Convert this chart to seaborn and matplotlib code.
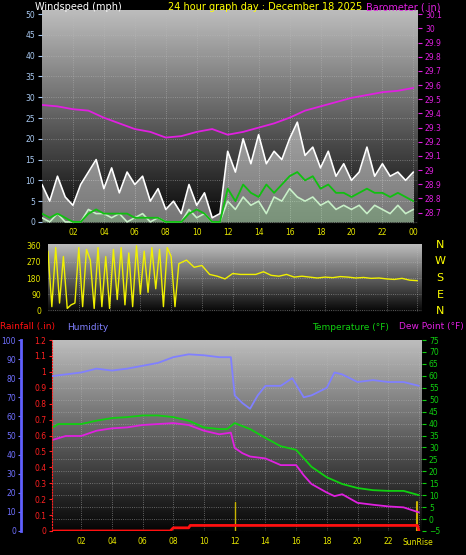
import numpy as np
import matplotlib
matplotlib.use('Agg')
import matplotlib.pyplot as plt
from matplotlib.colors import LinearSegmentedColormap
from matplotlib.ticker import FormatStrFormatter
import seaborn as sns

sns.set_style('dark')
plt.rcParams['font.family'] = ['DejaVu Sans']

# -------------------- data --------------------
wind_t = np.arange(0, 24.01, 0.5)
gust = [9, 5, 11, 6, 4, 9, 12, 15, 8, 13, 7, 12, 9, 11, 5, 8, 3, 5, 2, 9, 4, 7, 1, 2,
        17, 12, 20, 14, 21, 14, 17, 15, 20, 24, 16, 18, 13, 17, 11, 14, 10, 12, 18, 11,
        14, 11, 12, 10, 12]
speed = [1, 0, 2, 0, 0, 0, 3, 2, 2, 1, 2, 0, 1, 2, 0, 1, 0, 0, 0, 3, 1, 2, 0, 0,
         5, 3, 6, 4, 5, 2, 6, 5, 8, 6, 5, 6, 4, 5, 3, 4, 3, 4, 2, 4, 3, 2, 4, 2, 3]
avg_speed = [2, 1, 2, 1, 0, 0, 2, 3, 2, 2, 2, 2, 1, 1, 1, 1, 0, 0, 0, 2, 3, 2, 0, 0,
             8, 5, 9, 7, 6, 9, 7, 9, 11, 12, 10, 11, 8, 9, 7, 7, 6, 7, 8, 7, 7, 6, 7, 6, 5]

baro_t = np.arange(0, 25)
baro = [29.46, 29.45, 29.43, 29.42, 29.37, 29.33, 29.29, 29.27, 29.23, 29.24, 29.27,
        29.29, 29.25, 29.27, 29.30, 29.33, 29.37, 29.42, 29.45, 29.48, 29.51, 29.53,
        29.55, 29.56, 29.58]

dir_early = [330, 20, 350, 40, 300, 10, 30, 40, 350, 20, 340, 280, 10, 350, 20, 300, 10,
             340, 60, 350, 30, 320, 20, 360, 90, 330, 100, 350, 120, 340, 20, 350, 300, 20]
dir_late = [260, 280, 240, 250, 200, 190, 175, 205, 200, 200, 200, 215, 195, 190, 200, 185,
            190, 185, 180, 185, 182, 188, 185, 180, 183, 178, 180, 175, 172, 178, 168, 165]
dir_t = np.concatenate([np.arange(0, 8.26, 0.25), np.arange(8.5, 24.01, 0.5)])
direction = dir_early + dir_late

hum_t = [0, 1, 2, 3, 4, 5, 6, 7, 8, 9, 10, 11, 11.75, 12, 12.5, 13, 13.5, 14, 15, 15.75,
         16.5, 17, 18, 18.5, 19, 20, 21, 22, 23, 24]
humidity = [81, 82, 83, 85, 84, 85, 86.5, 88, 91, 92.5, 92, 91, 91, 71, 67, 64, 71, 76, 76,
            80, 70, 71, 75, 83, 82, 78, 79, 78, 78, 76]
temp_t = [0, 0.5, 2, 3, 4, 5, 6, 7, 8, 9, 10, 11, 11.5, 12, 13, 14, 15, 16, 17, 18, 19,
          20, 21, 22, 23, 24]
temperature = [37.7, 39.8, 39.8, 41.2, 42.3, 42.7, 43.4, 43.4, 42.7, 41.2, 38.4, 37.7, 37.7,
               40.2, 37.7, 34, 30.5, 29, 21.9, 17.5, 14.7, 13, 12.1, 11.8, 11.8, 10]
dew_t = [0, 1, 2, 3, 4, 5, 6, 7, 8, 9, 10, 11, 11.75, 12, 12.5, 13, 14, 15, 16, 16.5, 17,
         18, 18.5, 19, 20, 21, 22, 23, 24]
dewpoint = [32.9, 34.8, 34.8, 37, 38, 38.4, 39.4, 39.8, 40.2, 39.4, 37, 35.5, 36.2, 29.8,
            27.6, 26.2, 25.4, 22.6, 22.6, 18.3, 14.7, 11.1, 9.6, 10.4, 6.8, 6, 5.3, 4.9, 2.8]
rain_t = [0, 7.8, 8.0, 9.0, 9.1, 23.9, 24.0]
rain = [0, 0, 0.02, 0.02, 0.035, 0.035, 0]

hour_ticks = [2, 4, 6, 8, 10, 12, 14, 16, 18, 20, 22, 24]
hour_labels = ['02', '04', '06', '08', '10', '12', '14', '16', '18', '20', '22', '00']

W, H = 466, 555
fig = plt.figure(figsize=(W / 100, H / 100), dpi=100, facecolor='black')
bg_cmap = LinearSegmentedColormap.from_list('bg', ['#050505', '#cfcfcf'])


def rect(l, t, r, b):
    return [l / W, 1 - b / H, (r - l) / W, (b - t) / H]


def gradient(ax, x0, x1, y0, y1):
    ax.imshow(np.linspace(1, 0, 256)[:, None], aspect='auto', cmap=bg_cmap,
              extent=[x0, x1, y0, y1], zorder=0, vmin=0, vmax=1.1)
    ax.set_xlim(x0, x1)
    ax.set_ylim(y0, y1)


def style(ax):
    ax.set_facecolor('black')
    for s in ax.spines.values():
        s.set_visible(False)
    ax.grid(True, color='#bbbbbb', linestyle=':', linewidth=0.6, alpha=0.6, zorder=1)
    ax.set_xlabel('')
    ax.set_ylabel('')


def clean_twin(ax):
    for s in ax.spines.values():
        s.set_visible(False)
    ax.set_ylabel('')
    ax.grid(False)


# -------------------- wind / barometer --------------------
ax1 = fig.add_axes(rect(42, 10, 418, 224))
gradient(ax1, 0, 24.3, -0.5, 51)
style(ax1)
ax1.fill_between(wind_t, speed, gust, color='white', alpha=0.45, lw=0, zorder=2)
sns.lineplot(x=wind_t, y=gust, ax=ax1, color='white', lw=1.2, zorder=3)
ax1.fill_between(wind_t, 0, speed, color='#c8f0c8', alpha=0.6, lw=0, zorder=3)
sns.lineplot(x=wind_t, y=speed, ax=ax1, color='#c8f0c8', lw=1.2, zorder=4)
sns.lineplot(x=wind_t, y=avg_speed, ax=ax1, color='#10c010', lw=1.3, zorder=5)
ax1.set_xlim(0, 24.3)
ax1.set_ylim(-0.5, 51)
ax1.set_yticks(range(0, 51, 5))
ax1.set_xticks(hour_ticks)
ax1.set_xticklabels(hour_labels)
style(ax1)

axb = ax1.twinx()
sns.lineplot(x=baro_t, y=baro, ax=axb, color='#e020e0', lw=1.3)
axb.set_ylim(28.62, 30.13)
axb.set_yticks(np.round(np.arange(28.7, 30.11, 0.1), 1))
axb.yaxis.set_major_formatter(FormatStrFormatter('%g'))
axb.tick_params(axis='y', colors='#e020e0', labelsize=5.5, length=3, pad=2)
clean_twin(axb)
ax1.tick_params(axis='y', colors='#a8c8f0', labelsize=5.5, length=3, pad=2)
ax1.tick_params(axis='x', colors='#e8e800', labelsize=5.5, length=0, pad=3)

fig.text(35 / W, 1 - 7 / H, 'Windspeed (mph)', color='white', fontsize=7, va='center')
fig.text(265 / W, 1 - 7 / H, '24 hour graph day : December 18 2025', color='#ffff00',
         fontsize=7, va='center', ha='center')
fig.text(440 / W, 1 - 7 / H, 'Barometer (.in)', color='#e020e0', fontsize=7,
         va='center', ha='right')

# -------------------- wind direction --------------------
ax2 = fig.add_axes(rect(48, 244, 422, 312))
gradient(ax2, 0, 24.3, -10, 370)
style(ax2)
sns.lineplot(x=dir_t, y=direction, ax=ax2, color='#f0f000', lw=1.0, zorder=3)
ax2.set_xlim(0, 24.3)
ax2.set_ylim(-10, 370)
ax2.set_yticks([0, 90, 180, 270, 360])
ax2.set_xticks(hour_ticks)
ax2.set_xticklabels([])
ax2.tick_params(axis='y', colors='#e8e800', labelsize=5.5, length=3, pad=2)
ax2.tick_params(axis='x', length=0)
style(ax2)
for lbl, y in zip(['N', 'W', 'S', 'E', 'N'], [245, 261, 278, 295, 311]):
    fig.text(440 / W, 1 - y / H, lbl, color='#ffff00', fontsize=8, ha='center', va='center')

# -------------------- temperature / humidity / rain --------------------
ax3 = fig.add_axes(rect(52, 340, 422, 531))
gradient(ax3, 0.1, 24.2, -5, 75)
style(ax3)
sns.lineplot(x=temp_t, y=temperature, ax=ax3, color='#10d010', lw=1.3, zorder=4)
sns.lineplot(x=dew_t, y=dewpoint, ax=ax3, color='#e020e0', lw=1.3, zorder=4)
ax3.axvline(12, ymax=0.15, color='#c8b400', lw=1, zorder=3)
ax3.axvline(23.9, ymax=0.15, color='#c8b400', lw=1.5, zorder=3)
ax3.set_xlim(0.1, 24.2)
ax3.set_ylim(-5, 75)
ax3.set_yticks(range(-5, 76, 5))
ax3.set_xticks(hour_ticks)
ax3.set_xticklabels(hour_labels[:-1] + [''])
style(ax3)
ax3.text(23.9, -9.8, 'SunRise', color='#e8e800', fontsize=5.5, ha='center', va='center')

axr = ax3.twinx()
sns.lineplot(x=rain_t, y=rain, ax=axr, color='#ff1010', lw=2, zorder=5)
axr.set_ylim(0, 1.2)
axr.set_yticks(np.round(np.arange(0, 1.21, 0.1), 1))
axr.yaxis.set_major_formatter(FormatStrFormatter('%g'))
clean_twin(axr)
axr.yaxis.tick_left()
axr.tick_params(axis='y', colors='#ff2020', labelsize=5.5, length=2, pad=2)
axr.spines['left'].set_visible(True)
axr.spines['left'].set_color('#ff2020')
axr.spines['left'].set_linestyle(':')

axh = ax3.twinx()
sns.lineplot(x=hum_t, y=humidity, ax=axh, color='#8080ff', lw=1.3, zorder=5)
axh.set_ylim(0, 100)
axh.set_yticks(range(0, 101, 10))
clean_twin(axh)
axh.yaxis.tick_left()
axh.tick_params(axis='y', colors='#7070ff', labelsize=5.5, length=2, pad=2)
axh.spines['left'].set_visible(True)
axh.spines['left'].set_position(('outward', 22))
axh.spines['left'].set_color('#6060ff')
axh.spines['left'].set_linewidth(2)

# twinx moves the host ticks to the left, so put them back on the right
ax3.yaxis.tick_right()
ax3.tick_params(axis='y', colors='#10d010', labelsize=5.5, length=3, pad=2)
ax3.tick_params(axis='x', colors='#e8e800', labelsize=5.5, length=0, pad=4)

fig.text(0 / W, 1 - 327 / H, 'Rainfall (.in)', color='#ff1010', fontsize=6.5, va='center')
fig.text(67 / W, 1 - 327 / H, 'Humidity', color='#8080ff', fontsize=6.5, va='center')
fig.text(312 / W, 1 - 327 / H, 'Temperature (°F)', color='#10d010', fontsize=6.5,
         va='center')
fig.text(464 / W, 1 - 327 / H, 'Dew Point (°F)', color='#e020e0', fontsize=6.5,
         va='center', ha='right')

fig.savefig('out.png', dpi=100, facecolor='black')
